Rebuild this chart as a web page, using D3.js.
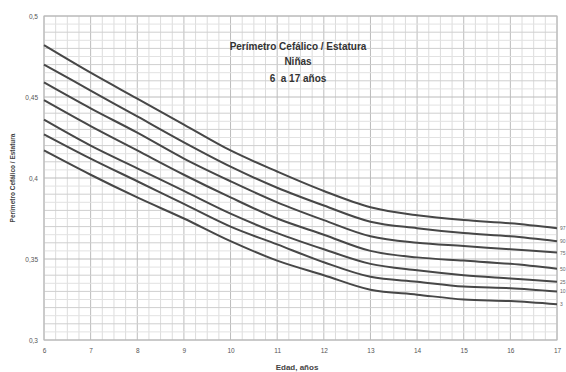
<!DOCTYPE html>
<html>
<head>
<meta charset="utf-8">
<script src="https://cdn.jsdelivr.net/npm/d3@7"></script>
<style>
  html, body { margin: 0; padding: 0; background: #fff; }
  svg { display: block; font-family: "Liberation Sans", Arial, sans-serif; }
  .title { white-space: pre; }
</style>
</head>
<body>
<svg id="chart" width="566" height="372"></svg>
<script>
// Head circumference / height ratio, girls 6 to 17 years
const ages = [6, 7, 8, 9, 10, 11, 12, 13, 14, 15, 16, 17];
const percentiles = ["97", "90", "75", "50", "25", "10", "3"];
const p97 = [0.482, 0.465, 0.449, 0.433, 0.417, 0.404, 0.392, 0.382, 0.377, 0.374, 0.372, 0.369];
const p90 = [0.470, 0.454, 0.438, 0.422, 0.407, 0.394, 0.383, 0.373, 0.369, 0.366, 0.364, 0.361];
const p75 = [0.459, 0.443, 0.428, 0.412, 0.398, 0.385, 0.374, 0.364, 0.360, 0.358, 0.356, 0.354];
const p50 = [0.448, 0.432, 0.417, 0.402, 0.388, 0.375, 0.365, 0.355, 0.351, 0.349, 0.347, 0.344];
const p25 = [0.436, 0.420, 0.406, 0.392, 0.378, 0.366, 0.356, 0.347, 0.343, 0.340, 0.338, 0.336];
const p10 = [0.427, 0.412, 0.398, 0.384, 0.370, 0.359, 0.348, 0.339, 0.336, 0.333, 0.332, 0.330];
const p3  = [0.417, 0.402, 0.388, 0.375, 0.361, 0.349, 0.340, 0.331, 0.328, 0.325, 0.324, 0.322];
const series = [p97, p90, p75, p50, p25, p10, p3];
const yTicks = [0.3, 0.35, 0.4, 0.45, 0.5];
const yTickLabels = ["0,3", "0,35", "0,4", "0,45", "0,5"];
const titleLines = ["Perímetro Cefálico / Estatura", "Niñas", "6  a 17 años"];

const svg = d3.select("#chart");
const margin = { left: 44, right: 9, top: 16, bottom: 32 };
const W = 566, H = 372;
const x = d3.scaleLinear().domain([6, 17]).range([margin.left, W - margin.right]);
const y = d3.scaleLinear().domain([0.3, 0.5]).range([H - margin.bottom, margin.top]);

// grid
const g = svg.append("g");
const minorX = d3.range(6, 17.001, 0.25);
const minorY = d3.range(0.3, 0.5001, 0.005);
g.selectAll(".vx").data(minorX).join("line")
  .attr("x1", d => x(d)).attr("x2", d => x(d))
  .attr("y1", y(0.3)).attr("y2", y(0.5))
  .attr("stroke", d => Math.abs(d - Math.round(d)) < 1e-6 ? "#bcbcbc" : "#dcdcdc")
  .attr("stroke-width", 1);
g.selectAll(".hy").data(minorY).join("line")
  .attr("x1", x(6)).attr("x2", x(17))
  .attr("y1", d => y(d)).attr("y2", d => y(d))
  .attr("stroke", d => {
    const k = Math.round(d * 1000);
    if (k % 50 === 0) return "#bcbcbc";
    if (k % 10 === 0) return "#cfcfcf";
    return "#e2e2e2";
  })
  .attr("stroke-width", 1);
g.append("rect")
  .attr("x", x(6)).attr("y", y(0.5))
  .attr("width", x(17) - x(6)).attr("height", y(0.3) - y(0.5))
  .attr("fill", "none").attr("stroke", "#b8b8b8");

// axes
const xAxis = d3.axisBottom(x).tickValues(ages).tickSize(0).tickPadding(8);
svg.append("g").attr("transform", `translate(0,${y(0.3)})`).call(xAxis)
  .call(a => a.select(".domain").remove())
  .call(a => a.selectAll("text").attr("font-size", 6.5).attr("fill", "#555"));
const yAxis = d3.axisLeft(y).tickValues(yTicks).tickSize(0).tickPadding(6)
  .tickFormat((d, i) => yTickLabels[i]);
svg.append("g").attr("transform", `translate(${x(6)},0)`).call(yAxis)
  .call(a => a.select(".domain").remove())
  .call(a => a.selectAll("text").attr("font-size", 6.5).attr("fill", "#555"));

// curves
const line = d3.line().x((d, i) => x(ages[i])).y(d => y(d)).curve(d3.curveCatmullRom.alpha(0.5));
svg.append("g").selectAll("path").data(series).join("path")
  .attr("d", d => line(d))
  .attr("fill", "none").attr("stroke", "#474747").attr("stroke-width", 2);

// percentile labels at the right end
svg.append("g").selectAll("text").data(series).join("text")
  .attr("x", x(17) + 3).attr("y", d => y(d[d.length - 1]) + 2)
  .attr("font-size", 5).attr("fill", "#666")
  .text((d, i) => percentiles[i]);

// title
svg.append("g").selectAll("text").data(titleLines).join("text")
  .attr("class", "title")
  .attr("x", 298).attr("y", (d, i) => [50, 65, 82][i])
  .attr("text-anchor", "middle").attr("font-size", 10).attr("font-weight", "bold")
  .attr("fill", "#333").text(d => d);

// axis titles
svg.append("text").attr("x", 297).attr("y", 370)
  .attr("text-anchor", "middle").attr("font-size", 8).attr("font-weight", "bold")
  .attr("fill", "#444").text("Edad, años");
svg.append("text")
  .attr("transform", `translate(15,${(y(0.3) + y(0.5)) / 2}) rotate(-90)`)
  .attr("text-anchor", "middle").attr("font-size", 6.5).attr("font-weight", "bold")
  .attr("fill", "#444").text("Perímetro Cefálico / Estatura");
</script>
</body>
</html>
